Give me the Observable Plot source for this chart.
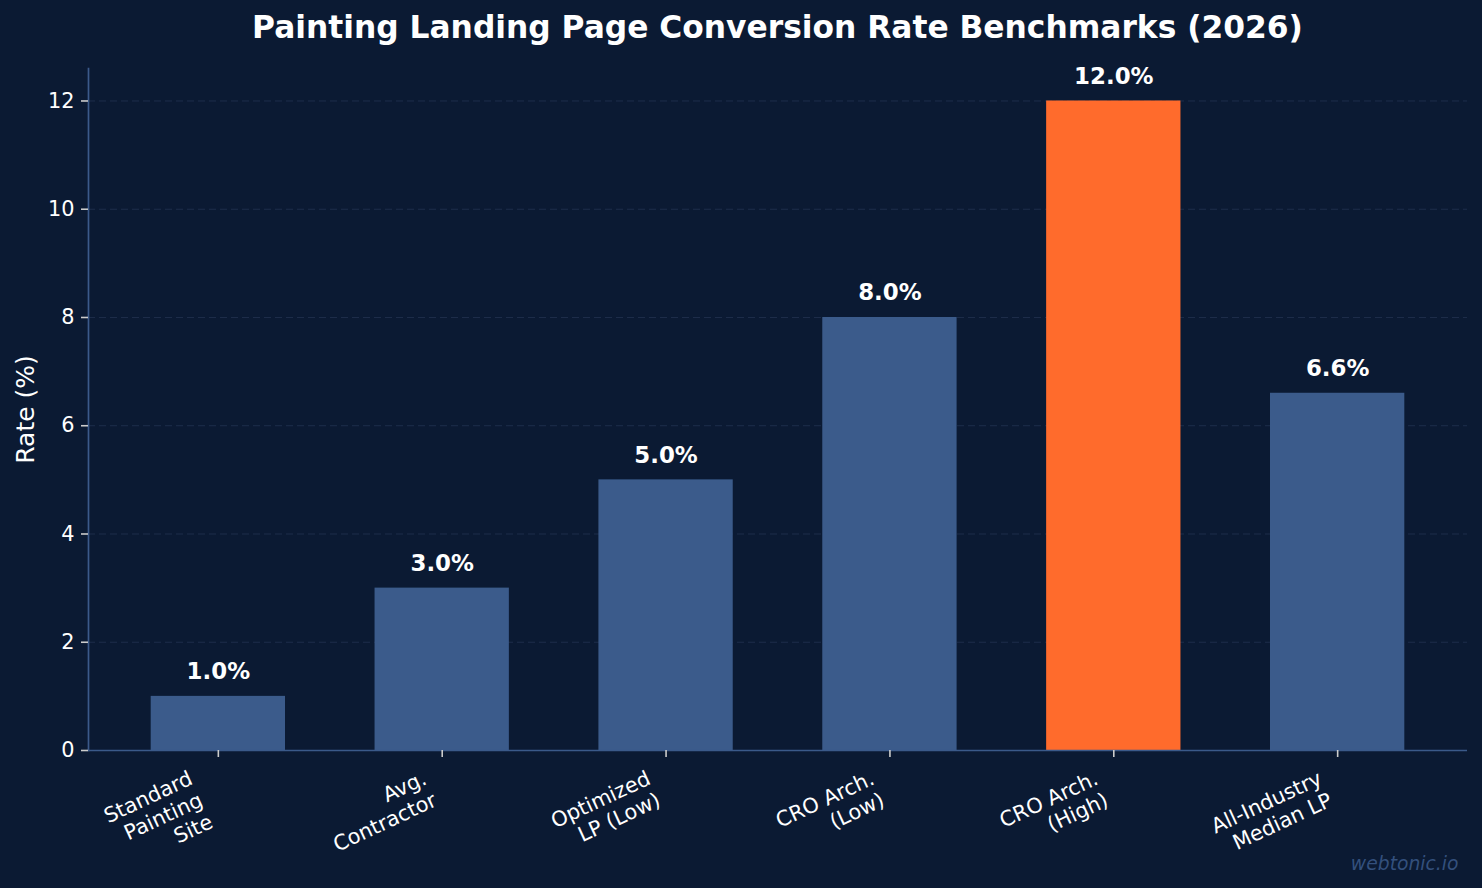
<!DOCTYPE html>
<html><head><meta charset="utf-8">
<script src="https://cdn.jsdelivr.net/npm/d3@7"></script>
<script src="https://cdn.jsdelivr.net/npm/@observablehq/plot@0.6"></script>
<style>
html,body{margin:0;padding:0;background:#0b1a33;}
#wrap{position:relative;width:1482px;height:888px;overflow:hidden;font-family:"DejaVu Sans",sans-serif;background:#0b1a33;}
#title{height:60px;box-sizing:border-box;padding:0 15px 0 88px;text-align:center;color:#fff;font-weight:bold;font-size:31.3px;line-height:55px;white-space:nowrap;}
#chart svg{display:block;}
</style></head><body>
<div id="wrap"><div id="title"></div><div id="chart"></div></div>
<script>
const titleText = "Painting Landing Page Conversion Rate Benchmarks (2026)";
const categories = ["Standard\nPainting\nSite", "Avg.\nContractor", "Optimized\nLP (Low)", "CRO Arch.\n(Low)", "CRO Arch.\n(High)", "All-Industry\nMedian LP"];
const rates = [1.0, 3.0, 5.0, 8.0, 12.0, 6.6];
const highlighted = "CRO Arch.\n(High)";
const yTicks = [0, 2, 4, 6, 8, 10, 12];
const yDomain = [0, 12.6];
const yLabel = "Rate (%)";
const watermark = "webtonic.io";

document.getElementById("title").textContent = titleText;

const data = categories.map((c, i) => ({category: c, rate: rates[i]}));
const nLines = d => d.category.split("\n").length;
const spine = "#3b5a8a";
const barBlue = "#3b5b8b";
const orange = "#ff6b2c";
const angle = 25;
const lh = 1.15, fs = 20.83;
const offX = n => -((0.71 * lh + (n - 1) * lh + 0.236) * fs) * Math.sin(angle * Math.PI / 180);

const tickLabel = n => Plot.text(data.filter(d => nLines(d) === n), {
  x: "category", text: "category", frameAnchor: "bottom",
  dy: 17.5, dx: offX(n) - 2, rotate: -angle, textAnchor: "end", lineAnchor: "top",
  lineHeight: lh, fontSize: fs, fill: "#ffffff"
});

const chart = Plot.plot({
  width: 1482, height: 828,
  marginTop: 8, marginRight: 15, marginBottom: 138, marginLeft: 88,
  style: {background: "transparent", color: "#ffffff", fontFamily: "DejaVu Sans", overflow: "visible"},
  x: {domain: categories, paddingInner: 0.4, paddingOuter: 0.28, align: 0.5, round: false, axis: null},
  y: {domain: yDomain, axis: null},
  color: {type: "identity"},
  marks: [
    Plot.gridY(yTicks.filter(t => t > 0), {stroke: "#1e2e4b", strokeOpacity: 1, strokeWidth: 1, strokeDasharray: "7,4"}),
    Plot.barY(data, {x: "category", y: "rate", fill: d => d.category === highlighted ? orange : barBlue}),
    Plot.ruleY([0], {stroke: spine, strokeWidth: 1.7}),
    Plot.frame({anchor: "left", stroke: spine, strokeWidth: 1.7}),
    Plot.axisY(yTicks, {tickSize: 7, tickPadding: 7, tickFormat: d => String(d), fontSize: 20.83, stroke: "#cccccc", fill: "#ffffff", strokeWidth: 1.6, label: null}),
    Plot.axisX({tickSize: 7, tickFormat: () => "", stroke: "#cccccc", strokeWidth: 1.6, label: null}),
    tickLabel(3),
    tickLabel(2),
    Plot.text(data, {x: "category", y: "rate", text: d => d.rate.toFixed(1) + "%", dy: -17, lineAnchor: "bottom", fontSize: 22.9, fontWeight: "bold", fill: "#ffffff"}),
    Plot.text([yLabel], {frameAnchor: "left", text: d => d, rotate: -90, dx: -72, textAnchor: "middle", lineAnchor: "top", fontSize: 25, fill: "#ffffff"}),
    Plot.text([watermark], {frameAnchor: "bottom-right", text: d => d, dx: -9, dy: 119, textAnchor: "end", lineAnchor: "bottom", fontSize: 18.75, fontStyle: "italic", fill: barBlue, fillOpacity: 0.85})
  ]
});
document.getElementById("chart").appendChild(chart);
</script>
</body></html>
